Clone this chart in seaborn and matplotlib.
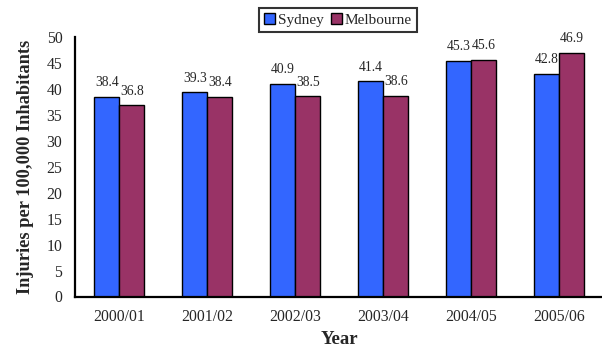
import matplotlib
matplotlib.use("Agg")
import matplotlib.pyplot as plt
import seaborn as sns
import pandas as pd
from matplotlib.patches import Patch
from matplotlib.ticker import FixedLocator

years = ["2000/01", "2001/02", "2002/03", "2003/04", "2004/05", "2005/06"]
sydney = [38.4, 39.3, 40.9, 41.4, 45.3, 42.8]
melbourne = [36.8, 38.4, 38.5, 38.6, 45.6, 46.9]
series_names = ["Sydney", "Melbourne"]
colors = ["#3366FF", "#993366"]

df = pd.DataFrame({
    "Year": years * 2,
    "Value": sydney + melbourne,
    "City": [series_names[0]] * len(years) + [series_names[1]] * len(years),
})

sns.set_style("white")
plt.rcParams["font.family"] = ["Liberation Serif", "DejaVu Serif"]

W, H = 602, 352
fig = plt.figure(figsize=(W / 100, H / 100), dpi=100)
left, right = 75.3, 603.3
top, bottom = 36.7, 296.5
ax = fig.add_axes([left / W, 1 - bottom / H, (right - left) / W, (bottom - top) / H])

sns.barplot(data=df, x="Year", y="Value", hue="City", palette=colors,
            width=0.57, edgecolor="black", linewidth=1.0, saturation=1,
            ax=ax)
ax.get_legend().remove()

for cont in ax.containers:
    ax.bar_label(cont, fmt="%.1f", padding=5.5, fontsize=9.8)

ax.set_ylim(0, 50)
ax.set_xlim(-0.5, 5.5)
ax.set_yticks(range(0, 51, 5))
ax.tick_params(axis="y", direction="out", length=4.8, width=1.2, labelsize=11.3, pad=4.5, color="black")
ax.tick_params(axis="x", which="major", length=0, labelsize=11.3, pad=9)
ax.xaxis.set_minor_locator(FixedLocator([i - 0.5 for i in range(len(years) + 1)]))
ax.tick_params(axis="x", which="minor", direction="out", length=5, width=1.2, color="black")

for s in ["top", "right"]:
    ax.spines[s].set_visible(False)
for s in ["left", "bottom"]:
    ax.spines[s].set_color("black")
    ax.spines[s].set_linewidth(1.6)

ax.set_xlabel("Year", fontsize=13.5, fontweight="bold", labelpad=4)
ax.set_ylabel("Injuries per 100,000 Inhabitants", fontsize=13.2, fontweight="bold", labelpad=9)

handles = [Patch(facecolor=c, edgecolor="black", linewidth=1.0) for c in colors]
leg = fig.legend(handles, series_names, loc="center", bbox_to_anchor=(338 / W, 1 - 20 / H),
                 ncol=2, frameon=True, fancybox=False, fontsize=11,
                 handlelength=0.7, handleheight=0.7, handletextpad=0.2,
                 columnspacing=0.5, borderpad=0.35)
leg.get_frame().set_edgecolor("black")
leg.get_frame().set_linewidth(1.5)

fig.savefig("out.png", dpi=100)
